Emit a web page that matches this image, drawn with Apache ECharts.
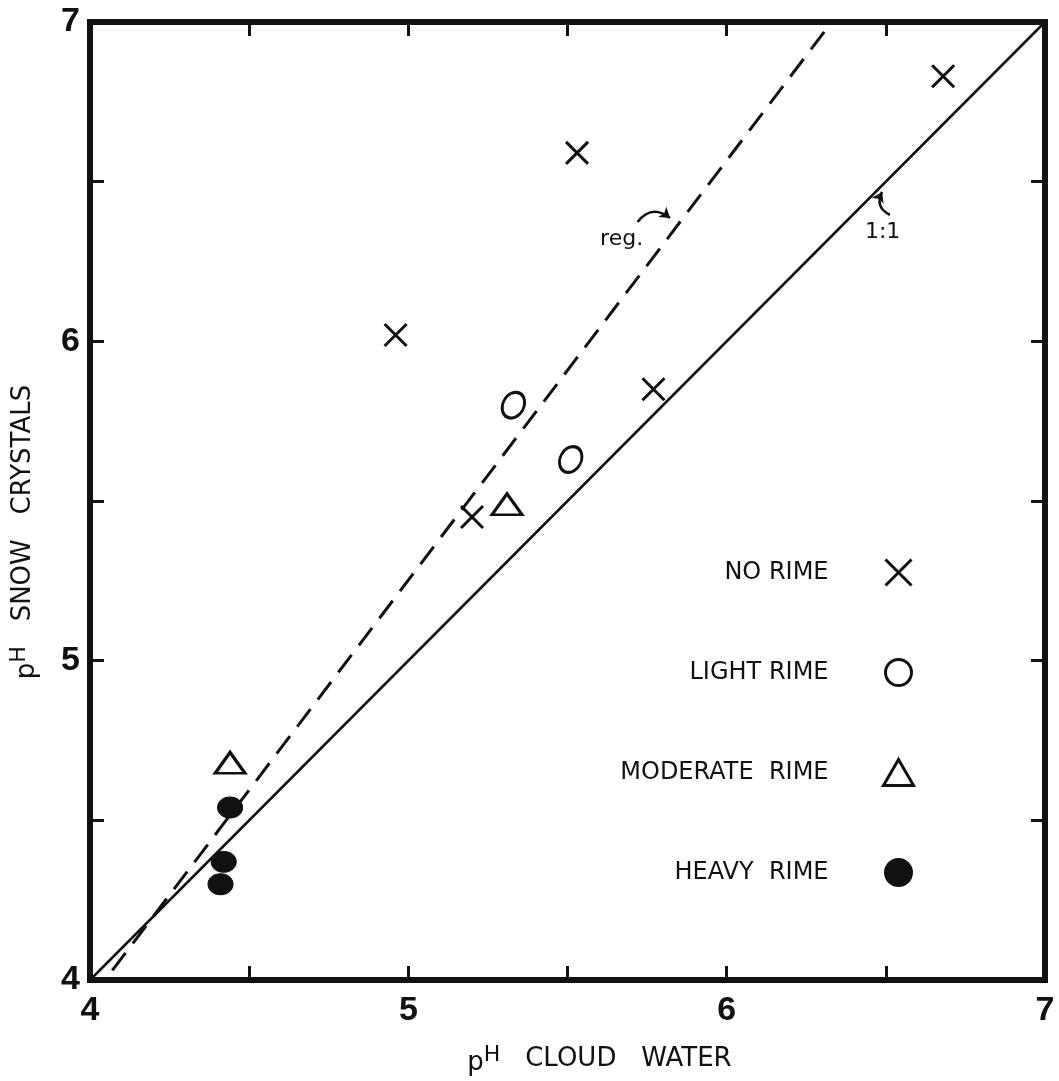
<!DOCTYPE html>
<html>
<head>
<meta charset="utf-8">
<script src="https://cdn.jsdelivr.net/npm/echarts@6/dist/echarts.min.js"></script>
<style>
  html, body { margin: 0; padding: 0; background: #fff; }
  #chart { width: 1059px; height: 1081px; }
</style>
</head>
<body>
<div id="chart"></div>
<script>
  // pH of snow crystals vs pH of cloud water, by degree of riming
  var noRimeX = [4.96, 5.53, 6.68, 5.2, 5.77];
  var noRimeY = [6.02, 6.59, 6.83, 5.45, 5.85];
  var lightRimeX = [5.33, 5.51];
  var lightRimeY = [5.8, 5.63];
  var moderateRimeX = [5.31, 4.44];
  var moderateRimeY = [5.49, 4.68];
  var heavyRimeX = [4.44, 4.42, 4.41];
  var heavyRimeY = [4.54, 4.37, 4.3];

  // regression line (dashed) and 1:1 line end points
  var regX = [4.07, 6.33];
  var regY = [4.03, 7.0];
  var oneX = [4, 7];
  var oneY = [4, 7];

  // annotation text and curved arrows
  var noteNames = ["reg.", "1:1"];
  var noteX = [5.67, 6.49];
  var noteY = [6.32, 6.34];
  var arrowFrom = [[5.72, 6.374], [6.513, 6.396]];
  var arrowTo = [[5.822, 6.386], [6.488, 6.468]];

  var ticks = [4, 5, 6, 7];

  function pairs(xs, ys) {
    return xs.map(function (x, i) {
      return [x, ys[i]];
    });
  }

  var ink = "#111";
  var crossPath = "path://M0,0L10,10M10,0L0,10";
  var openStyle = { color: "rgba(0,0,0,0)", borderColor: ink, borderWidth: 3, opacity: 1 };

  var chart = echarts.init(document.getElementById("chart"));
  var option = {
    backgroundColor: "#fff",
    animation: false,
    grid: {
      left: 90,
      right: 14,
      top: 22,
      bottom: 101,
      show: true,
      borderColor: ink,
      borderWidth: 6,
    },
    legend: {
      orient: "vertical",
      right: 139,
      top: 553,
      align: "right",
      itemWidth: 30,
      itemHeight: 26,
      itemGap: 71,
      selectedMode: false,
      data: ["NO RIME", "LIGHT RIME", "MODERATE  RIME", "HEAVY  RIME"],
      textStyle: {
        fontFamily: "DejaVu Sans",
        fontSize: 24,
        color: ink,
        padding: [0, 50, 0, 0],
      },
      itemStyle: { borderWidth: 3, opacity: 1 },
    },
    xAxis: [
      {
        type: "value",
        min: 4,
        max: 7,
        interval: 0.5,
        position: "bottom",
        name: "{p|p}{h|H}   CLOUD   WATER",
        nameLocation: "middle",
        nameGap: 62,
        nameTextStyle: {
          fontFamily: "DejaVu Sans",
          fontSize: 26,
          color: ink,
          padding: [0, 0, 0, 64],
          rich: {
            p: { fontFamily: "DejaVu Sans", fontSize: 26, color: ink, padding: [8, 0, 0, 0] },
            h: { fontFamily: "DejaVu Sans", fontSize: 22, color: ink, padding: [0, 0, 8, 0] },
          },
        },
        axisLine: { show: false },
        axisTick: { inside: true, length: 14, lineStyle: { color: ink, width: 3 } },
        axisLabel: {
          margin: 14,
          fontFamily: "Liberation Sans",
          fontWeight: "bold",
          fontSize: 34,
          color: ink,
          formatter: function (v) {
            return ticks.indexOf(v) >= 0 ? String(v) : "";
          },
        },
        splitLine: { show: false },
      },
      {
        type: "value",
        min: 4,
        max: 7,
        interval: 0.5,
        position: "top",
        axisLine: { show: false },
        axisTick: { inside: true, length: 14, lineStyle: { color: ink, width: 3 } },
        axisLabel: { show: false },
        splitLine: { show: false },
      },
    ],
    yAxis: [
      {
        type: "value",
        min: 4,
        max: 7,
        interval: 0.5,
        position: "left",
        name: "{p|p}{h|H}   SNOW   CRYSTALS",
        nameLocation: "middle",
        nameGap: 50,
        nameTextStyle: {
          fontFamily: "DejaVu Sans",
          fontSize: 26,
          color: ink,
          padding: [0, 62, 0, 0],
          rich: {
            p: { fontFamily: "DejaVu Sans", fontSize: 26, color: ink, padding: [8, 0, 0, 0] },
            h: { fontFamily: "DejaVu Sans", fontSize: 22, color: ink, padding: [0, 0, 8, 0] },
          },
        },
        axisLine: { show: false },
        axisTick: { inside: true, length: 14, lineStyle: { color: ink, width: 3 } },
        axisLabel: {
          margin: 10,
          fontFamily: "Liberation Sans",
          fontWeight: "bold",
          fontSize: 34,
          color: ink,
          formatter: function (v) {
            return ticks.indexOf(v) >= 0 ? String(v) : "";
          },
        },
        splitLine: { show: false },
      },
      {
        type: "value",
        min: 4,
        max: 7,
        interval: 0.5,
        position: "right",
        axisLine: { show: false },
        axisTick: { inside: true, length: 14, lineStyle: { color: ink, width: 3 } },
        axisLabel: { show: false },
        splitLine: { show: false },
      },
    ],
    series: [
      {
        name: "1:1",
        type: "line",
        data: pairs(oneX, oneY),
        symbol: "none",
        silent: true,
        lineStyle: { color: ink, width: 2.5 },
      },
      {
        name: "reg.",
        type: "line",
        data: pairs(regX, regY),
        symbol: "none",
        silent: true,
        lineStyle: { color: ink, width: 3, type: [22, 12] },
      },
      {
        name: "NO RIME",
        type: "scatter",
        data: pairs(noRimeX, noRimeY),
        symbol: crossPath,
        symbolSize: 22,
        itemStyle: openStyle,
      },
      {
        name: "LIGHT RIME",
        type: "scatter",
        data: pairs(lightRimeX, lightRimeY),
        symbol: "circle",
        symbolSize: [21, 27],
        symbolRotate: -28,
        itemStyle: openStyle,
      },
      {
        name: "MODERATE  RIME",
        type: "scatter",
        data: pairs(moderateRimeX, moderateRimeY),
        symbol: "triangle",
        symbolSize: [30, 21],
        itemStyle: openStyle,
      },
      {
        name: "HEAVY  RIME",
        type: "scatter",
        data: pairs(heavyRimeX, heavyRimeY),
        symbol: "circle",
        symbolSize: [25, 21],
        itemStyle: { color: ink, borderColor: ink, borderWidth: 1, opacity: 1 },
      },
      {
        name: "notes",
        type: "scatter",
        silent: true,
        symbolSize: 0,
        itemStyle: { opacity: 1 },
        data: noteNames.map(function (n, i) {
          return { name: n, value: [noteX[i], noteY[i]] };
        }),
        label: {
          show: true,
          position: "inside",
          formatter: "{b}",
          fontFamily: "DejaVu Sans",
          fontSize: 22,
          color: ink,
          opacity: 1,
        },
      },
      {
        name: "arrows",
        type: "lines",
        coordinateSystem: "cartesian2d",
        silent: true,
        symbol: ["none", "arrow"],
        symbolSize: 10,
        lineStyle: { color: ink, width: 2.5, curveness: 0.5, opacity: 1 },
        data: arrowFrom.map(function (p, i) {
          return { coords: [p, arrowTo[i]] };
        }),
      },
    ],
  };
  chart.setOption(option);
</script>
</body>
</html>
